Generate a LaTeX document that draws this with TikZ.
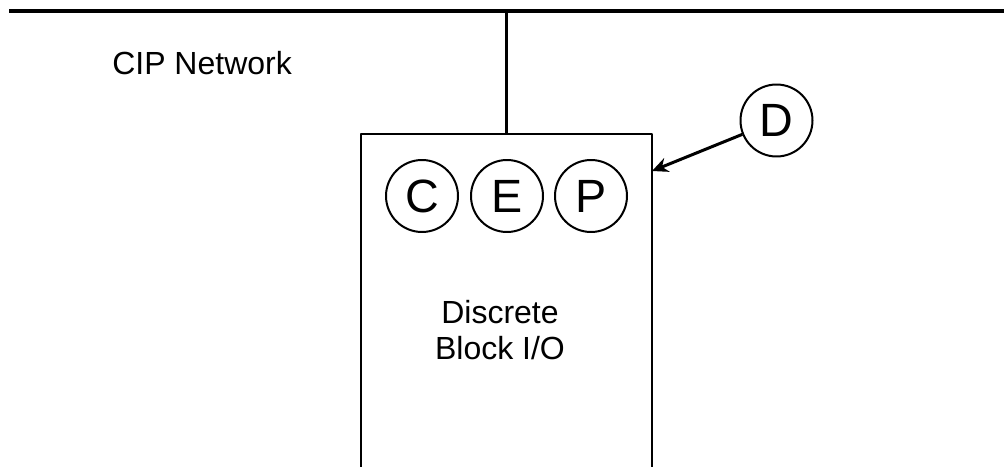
\documentclass[tikz,border=0pt]{standalone}
\usepackage{fontspec}
\setmainfont{Liberation Sans}
\usetikzlibrary{arrows.meta}
\tikzset{
	letter/.style={circle, draw, line width=1.5pt, minimum size=54pt, inner sep=0pt, font=\fontsize{35}{40}\selectfont},
	device/.style={draw, line width=1.5pt, minimum width=218.25pt, minimum height=290pt, inner sep=0pt}
}
\begin{document}
\begin{tikzpicture}[x=0.75pt, y=-0.75pt, >={Stealth[length=12pt,width=11pt]}, font=\fontsize{24}{27}\selectfont, line join=round]
	\useasboundingbox (0,0) rectangle (1004,467);
	% bus
	\coordinate (busL) at (9,11);
	\coordinate (busR) at (1004,11);
	\coordinate (tap) at (506,11);
	\draw[line width=3pt] (busL)--(busR);
	\node[anchor=base west, inner sep=0pt] (net) at (112,75) {CIP Network};
	% block
	\node[device, anchor=north] (box) at (506.5,133) {};
	\draw[line width=2.25pt] (tap)--(tap |- box.north);
	\node[letter] (C) at (422,196) {C};
	\node[letter] (E) at (507,196) {E};
	\node[letter] (P) at (591,196) {P};
	\node[align=center, inner sep=0pt] (txt) at (500,330) {Discrete\\Block I/O};
	% D
	\node[letter] (D) at (776.5,120.5) {D};
	\coordinate (tip) at (652,171);
	\draw[->, line width=2.25pt] (D)--(tip);
\end{tikzpicture}
\end{document}
